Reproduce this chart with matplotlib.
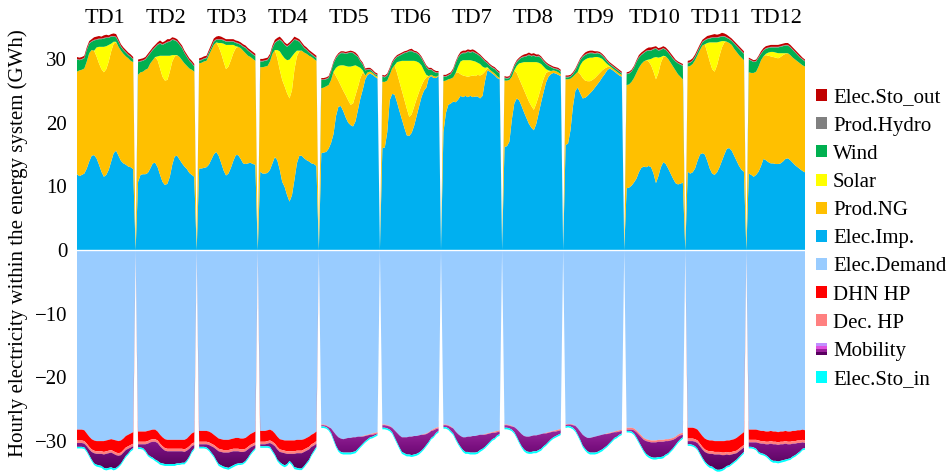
import matplotlib
matplotlib.use("Agg")
import matplotlib.pyplot as plt
import numpy as np
from matplotlib.colors import LinearSegmentedColormap
from matplotlib.legend_handler import HandlerBase
from matplotlib.patches import Patch, Rectangle

plt.rcParams["font.family"] = ["Liberation Serif", "DejaVu Serif"]

DAYS = ["TD1", "TD2", "TD3", "TD4", "TD5", "TD6", "TD7", "TD8", "TD9", "TD10", "TD11", "TD12"]

# hourly values (GWh), one row of 24 hours per typical day
IMP = [
    [11.9, 11.6, 11.8, 12.0, 12.8, 13.9, 14.8, 14.9, 14.4, 13.4, 12.3, 11.5, 11.8, 12.6, 13.9, 15.2, 15.6, 14.8, 14.0, 13.6, 13.4, 13.1, 13.0, 12.7],
    [10.7, 11.8, 11.9, 11.9, 12.1, 12.8, 13.6, 13.7, 13.0, 11.8, 10.7, 10.2, 10.4, 11.5, 13.4, 14.7, 14.8, 14.2, 13.6, 13.1, 12.7, 12.1, 11.8, 11.5],
    [12.8, 12.8, 12.9, 13.0, 13.4, 14.2, 15.0, 15.4, 14.8, 13.7, 12.5, 11.7, 12.0, 12.9, 14.0, 14.9, 14.9, 14.3, 13.6, 13.5, 13.6, 13.7, 13.5, 13.4],
    [12.3, 12.0, 12.0, 12.1, 12.6, 13.6, 14.6, 14.1, 12.6, 10.7, 9.9, 8.6, 7.6, 8.6, 11.0, 13.6, 14.8, 14.8, 14.4, 14.1, 13.9, 13.6, 13.5, 13.2],
    [15.2, 15.3, 15.4, 15.9, 16.8, 18.2, 21.0, 22.5, 22.6, 21.8, 20.8, 20.0, 19.6, 19.4, 20.2, 22.0, 23.8, 25.2, 26.8, 27.5, 27.7, 27.5, 27.2, 26.9],
    [16.0, 16.1, 18.5, 23.5, 24.5, 24.4, 23.2, 21.8, 20.5, 19.2, 18.0, 17.9, 18.4, 19.5, 21.0, 22.5, 24.0, 25.0, 25.5, 27.0, 27.3, 27.0, 27.0, 27.3],
    [18.5, 21.5, 22.8, 23.0, 23.3, 23.2, 23.6, 24.2, 24.0, 24.2, 24.0, 24.2, 24.0, 24.1, 24.1, 23.8, 24.2, 26.5, 28.2, 28.0, 27.7, 27.4, 27.0, 26.8],
    [16.2, 16.3, 17.0, 20.5, 23.0, 23.8, 23.5, 22.6, 21.6, 20.7, 19.8, 19.2, 18.8, 19.8, 21.5, 23.2, 24.8, 26.3, 27.2, 27.6, 27.8, 27.7, 27.5, 27.3],
    [16.5, 16.7, 18.8, 22.5, 25.0, 25.5, 24.6, 23.8, 23.9, 24.2, 24.6, 25.0, 25.5, 26.0, 26.5, 27.1, 27.6, 28.2, 28.5, 28.3, 28.0, 27.7, 27.4, 27.2],
    [9.7, 9.8, 10.1, 10.6, 11.2, 12.2, 12.9, 13.1, 13.0, 13.2, 13.0, 12.0, 10.5, 11.6, 13.0, 13.8, 13.5, 12.8, 12.0, 11.2, 10.5, 10.3, 10.4, 10.6],
    [12.3, 12.0, 12.2, 12.8, 14.0, 15.0, 15.2, 15.0, 14.0, 12.8, 12.0, 11.8, 12.2, 13.0, 14.0, 15.0, 15.9, 16.0, 15.6, 14.8, 14.0, 13.2, 12.6, 12.3],
    [12.0, 11.8, 11.5, 11.8, 12.3, 13.2, 14.3, 14.1, 13.8, 13.6, 13.6, 13.5, 13.5, 13.6, 13.9, 14.3, 14.4, 14.1, 13.7, 13.3, 13.0, 12.7, 12.4, 12.2],
]
NG = [
    [16.1, 16.6, 16.5, 16.5, 16.8, 17.0, 16.6, 16.4, 16.0, 15.9, 16.1, 16.4, 16.6, 17.0, 17.3, 17.2, 17.0, 17.1, 17.3, 17.2, 17.0, 17.0, 16.7, 16.8],
    [16.8, 16.1, 16.1, 16.4, 16.4, 16.5, 16.2, 16.6, 16.8, 16.7, 16.5, 16.4, 16.3, 16.5, 16.2, 15.7, 15.8, 16.1, 16.2, 16.2, 16.2, 16.4, 16.5, 16.5],
    [16.5, 16.6, 16.7, 16.7, 17.2, 17.2, 17.2, 17.2, 17.1, 17.2, 17.1, 16.7, 16.8, 16.9, 16.9, 16.8, 17.0, 17.4, 17.7, 17.4, 16.9, 16.6, 16.5, 16.3],
    [16.4, 16.7, 16.8, 16.8, 17.0, 17.2, 16.8, 16.0, 15.7, 16.0, 15.8, 16.0, 16.2, 16.5, 17.3, 16.8, 16.4, 16.5, 16.6, 16.7, 16.6, 16.7, 16.5, 16.5],
    [10.2, 10.2, 10.3, 10.0, 9.9, 9.8, 6.3, 4.1, 3.2, 3.2, 3.5, 3.5, 3.2, 3.6, 4.1, 3.6, 3.2, 2.7, 0.6, 0.4, 0.3, 0.3, 0.2, 0.3],
    [10.4, 10.3, 8.1, 4.0, 4.0, 4.6, 4.6, 4.6, 4.5, 4.4, 4.2, 3.0, 2.9, 3.0, 2.7, 2.3, 1.8, 1.6, 1.6, 0.3, 0.2, 0.3, 0.2, 0.1],
    [8.0, 5.1, 4.0, 3.9, 3.8, 4.6, 4.3, 3.4, 3.4, 3.1, 3.2, 3.1, 3.4, 3.2, 3.4, 3.6, 3.4, 1.5, 0.3, 0.3, 0.3, 0.3, 0.3, 0.2],
    [10.4, 10.3, 9.7, 6.7, 5.2, 4.0, 3.4, 3.4, 3.5, 3.5, 3.5, 3.4, 3.2, 3.2, 2.7, 2.4, 2.1, 1.5, 0.8, 0.5, 0.4, 0.4, 0.4, 0.3],
    [10.3, 10.1, 8.1, 4.7, 2.6, 2.5, 3.0, 3.2, 2.7, 2.3, 1.9, 1.7, 1.5, 1.4, 1.3, 1.1, 0.9, 0.5, 0.3, 0.3, 0.3, 0.3, 0.3, 0.3],
    [16.2, 16.2, 16.3, 16.4, 16.6, 16.4, 16.3, 16.5, 16.8, 16.4, 16.0, 16.0, 16.3, 16.2, 16.4, 16.5, 16.9, 17.2, 17.4, 17.6, 17.7, 17.3, 16.8, 16.2],
    [16.5, 16.9, 17.0, 17.0, 16.6, 16.4, 16.9, 17.3, 17.0, 16.8, 16.4, 16.2, 16.8, 17.5, 17.8, 17.6, 16.8, 16.5, 16.6, 16.8, 17.1, 17.4, 17.6, 17.5],
    [15.9, 16.0, 16.3, 16.2, 16.5, 16.6, 16.1, 16.5, 16.7, 16.8, 16.7, 16.7, 16.6, 16.7, 16.7, 16.5, 16.5, 16.5, 16.5, 16.6, 16.6, 16.6, 16.6, 16.6],
]
SOLAR = [
    [0, 0, 0, 0, 0, 0, 0, 0, 1.4, 2.6, 3.5, 4.0, 3.6, 2.6, 1.2, 0.3, 0.1, 0, 0, 0, 0, 0, 0, 0],
    [0, 0, 0, 0, 0, 0, 0, 0, 0.6, 2.0, 3.3, 3.9, 3.8, 2.5, 1.0, 0.2, 0, 0, 0, 0, 0, 0, 0, 0],
    [0, 0, 0, 0, 0, 0, 0, 0, 0.6, 1.6, 2.8, 3.8, 3.4, 2.4, 1.3, 0.3, 0, 0, 0, 0, 0, 0, 0, 0],
    [0, 0, 0, 0, 0, 0, 0, 1.3, 2.9, 3.9, 4.4, 5.2, 6.1, 5.3, 2.6, 0.9, 0.1, 0, 0, 0, 0, 0, 0, 0],
    [0, 0, 0, 0, 0, 0, 1.3, 2.3, 3.2, 4.0, 4.6, 5.3, 6.0, 5.9, 4.7, 3.2, 1.6, 0.3, 0, 0, 0, 0, 0, 0],
    [0, 0, 0, 0, 0, 0, 1.7, 3.2, 4.7, 6.1, 7.5, 8.8, 8.4, 7.2, 5.9, 4.6, 3.2, 1.6, 0.4, 0, 0, 0, 0, 0],
    [0, 0, 0, 0, 0, 0, 0.9, 2.0, 2.4, 2.5, 2.6, 2.5, 2.3, 2.3, 1.9, 1.8, 1.2, 0.6, 0.2, 0, 0, 0, 0, 0],
    [0, 0, 0, 0, 0, 1.1, 2.4, 3.4, 4.4, 5.3, 6.2, 6.9, 7.5, 6.5, 5.2, 3.6, 1.9, 0.6, 0.2, 0, 0, 0, 0, 0],
    [0, 0, 0, 0, 0, 0, 1.4, 2.6, 3.3, 3.6, 3.7, 3.5, 3.3, 2.9, 2.4, 1.8, 1.1, 0.5, 0.1, 0, 0, 0, 0, 0],
    [0, 0, 0, 0, 0, 0, 0, 0, 0, 0.3, 1.0, 2.2, 3.5, 2.4, 0.9, 0.2, 0, 0, 0, 0, 0, 0, 0, 0],
    [0, 0, 0, 0, 0, 0, 0, 0, 1.5, 3.0, 4.2, 4.6, 3.6, 2.2, 1.0, 0.2, 0, 0, 0, 0, 0, 0, 0, 0],
    [0, 0, 0, 0, 0, 0, 0, 0.2, 0.5, 0.7, 0.8, 0.8, 0.8, 0.6, 0.3, 0.1, 0, 0, 0, 0, 0, 0, 0, 0],
]
WIND = [
    [1.9, 1.6, 1.6, 1.6, 1.8, 1.5, 1.3, 1.6, 1.2, 1.2, 1.2, 1.3, 1.3, 1.1, 1.1, 0.8, 0.7, 0.8, 0.6, 0.6, 0.6, 0.5, 0.6, 0.4],
    [2.0, 1.7, 1.7, 1.6, 1.9, 1.6, 1.6, 1.5, 1.8, 1.9, 1.7, 1.9, 2.1, 2.2, 2.4, 2.3, 2.1, 1.9, 1.9, 1.6, 1.4, 1.2, 1.0, 0.8],
    [0.4, 0.4, 0.4, 0.4, 0.4, 0.4, 0.5, 0.4, 0.5, 0.5, 0.5, 0.5, 0.5, 0.5, 0.5, 0.5, 0.5, 0.5, 0.6, 0.8, 0.8, 0.7, 0.7, 0.7],
    [0.9, 0.9, 0.9, 0.9, 0.8, 0.9, 1.1, 1.4, 1.8, 2.1, 2.1, 2.1, 2.3, 2.2, 2.1, 1.6, 1.4, 0.9, 0.7, 0.6, 0.5, 0.4, 0.4, 0.4],
    [1.3, 1.2, 1.1, 1.1, 1.3, 1.3, 1.5, 1.7, 1.9, 1.9, 1.9, 2.1, 2.2, 2.0, 1.6, 1.5, 1.0, 0.9, 0.8, 0.4, 0.3, 0.2, 0.2, 0.2],
    [0.8, 0.7, 0.8, 0.8, 0.8, 0.9, 0.8, 0.9, 1.0, 1.2, 1.3, 1.5, 1.5, 1.3, 1.3, 1.2, 1.1, 1.2, 1.2, 1.0, 0.8, 0.7, 0.6, 0.4],
    [0.7, 0.6, 0.6, 0.7, 1.1, 1.5, 1.4, 1.1, 1.1, 1.1, 1.3, 1.2, 1.4, 1.3, 1.3, 1.2, 1.2, 1.0, 0.6, 0.6, 0.6, 0.7, 0.7, 0.7],
    [0.4, 0.3, 0.3, 0.6, 0.6, 0.6, 0.6, 0.8, 0.8, 0.9, 1.1, 0.9, 1.0, 0.8, 1.0, 0.9, 0.8, 0.8, 0.7, 0.6, 0.3, 0.3, 0.4, 0.4],
    [0.3, 0.3, 0.3, 0.4, 0.6, 1.0, 0.8, 0.7, 0.7, 0.7, 0.7, 0.7, 0.5, 0.6, 0.6, 0.5, 0.5, 0.4, 0.3, 0.3, 0.3, 0.3, 0.3, 0.2],
    [1.7, 1.7, 1.6, 1.6, 1.7, 1.6, 1.4, 1.3, 1.4, 1.4, 1.3, 1.3, 1.3, 1.1, 1.1, 1.1, 1.0, 1.0, 1.1, 1.2, 1.4, 1.7, 1.9, 2.1],
    [0.5, 0.5, 0.5, 0.5, 0.5, 0.5, 0.5, 0.6, 0.6, 0.6, 0.7, 0.7, 0.7, 0.7, 0.7, 0.7, 0.6, 0.6, 0.6, 0.8, 0.9, 1.0, 1.0, 1.0],
    [2.0, 1.9, 1.7, 1.6, 1.4, 1.0, 0.9, 0.8, 0.7, 0.7, 0.7, 0.8, 0.9, 1.0, 1.1, 1.2, 1.2, 1.2, 1.2, 1.1, 1.0, 0.9, 0.9, 0.8],
]
HYDRO_DAY = [0.1, 0.1, 0.1, 0.1, 0.1, 0.1, 0.1, 0.1, 0.1, 0.1, 0.1, 0.1, 0.1, 0.1, 0.1, 0.1, 0.1, 0.1, 0.1, 0.1, 0.1, 0.1, 0.1, 0.1]
HYDRO = [HYDRO_DAY] * 12
STO_OUT = [
    [0.3, 0.3, 0.3, 0.3, 0.3, 0.3, 0.3, 0.4, 0.4, 0.4, 0.3, 0.4, 0.4, 0.3, 0.3, 0.4, 0.4, 0.3, 0.3, 0.3, 0.3, 0.3, 0.3, 0.3],
    [0.3, 0.3, 0.3, 0.3, 0.3, 0.3, 0.3, 0.3, 0.3, 0.4, 0.3, 0.3, 0.4, 0.3, 0.3, 0.3, 0.3, 0.3, 0.3, 0.3, 0.3, 0.3, 0.3, 0.3],
    [0.3, 0.3, 0.3, 0.3, 0.3, 0.4, 0.4, 0.4, 0.5, 0.4, 0.3, 0.3, 0.3, 0.3, 0.3, 0.3, 0.3, 0.3, 0.3, 0.3, 0.3, 0.3, 0.3, 0.3],
    [0.3, 0.3, 0.3, 0.3, 0.3, 0.3, 0.4, 0.4, 0.4, 0.3, 0.3, 0.3, 0.3, 0.3, 0.4, 0.3, 0.3, 0.3, 0.3, 0.3, 0.3, 0.3, 0.3, 0.3],
    [0.2, 0.2, 0.2, 0.2, 0.2, 0.2, 0.2, 0.2, 0.2, 0.2, 0.2, 0.2, 0.2, 0.2, 0.3, 0.2, 0.2, 0.2, 0.2, 0.2, 0.2, 0.2, 0.2, 0.2],
    [0.2, 0.2, 0.2, 0.2, 0.2, 0.2, 0.2, 0.2, 0.2, 0.2, 0.2, 0.2, 0.3, 0.2, 0.2, 0.2, 0.2, 0.2, 0.2, 0.2, 0.2, 0.2, 0.2, 0.2],
    [0.2, 0.2, 0.2, 0.2, 0.2, 0.2, 0.2, 0.3, 0.3, 0.3, 0.3, 0.3, 0.3, 0.3, 0.2, 0.2, 0.2, 0.2, 0.2, 0.2, 0.2, 0.2, 0.2, 0.2],
    [0.2, 0.2, 0.2, 0.2, 0.2, 0.2, 0.2, 0.2, 0.3, 0.3, 0.3, 0.3, 0.3, 0.3, 0.2, 0.2, 0.2, 0.2, 0.2, 0.2, 0.2, 0.2, 0.2, 0.2],
    [0.2, 0.2, 0.2, 0.2, 0.2, 0.2, 0.2, 0.2, 0.3, 0.3, 0.3, 0.3, 0.3, 0.2, 0.2, 0.2, 0.2, 0.2, 0.2, 0.2, 0.2, 0.2, 0.2, 0.2],
    [0.2, 0.2, 0.2, 0.2, 0.2, 0.3, 0.3, 0.3, 0.3, 0.4, 0.4, 0.3, 0.3, 0.3, 0.3, 0.3, 0.3, 0.3, 0.3, 0.3, 0.2, 0.2, 0.2, 0.2],
    [0.3, 0.3, 0.3, 0.3, 0.3, 0.3, 0.3, 0.3, 0.4, 0.4, 0.4, 0.5, 0.4, 0.4, 0.5, 0.4, 0.4, 0.3, 0.3, 0.3, 0.3, 0.3, 0.3, 0.3],
    [0.2, 0.2, 0.2, 0.2, 0.2, 0.3, 0.3, 0.3, 0.3, 0.3, 0.3, 0.3, 0.3, 0.3, 0.3, 0.3, 0.3, 0.3, 0.3, 0.3, 0.3, 0.3, 0.2, 0.2],
]

# consumption side, drawn below zero
DEMAND = [
    [28.2, 28.2, 28.2, 28.3, 28.8, 29.3, 29.7, 29.9, 30.0, 30.0, 30.0, 30.0, 29.9, 29.8, 29.7, 29.8, 29.9, 30.0, 29.9, 29.6, 29.2, 29.0, 28.8, 28.6],
    [28.5, 28.5, 28.5, 28.5, 28.4, 28.3, 28.2, 28.2, 28.5, 29.0, 29.4, 29.7, 29.8, 29.8, 29.8, 29.8, 29.8, 29.8, 29.8, 29.8, 29.6, 29.2, 28.8, 28.6],
    [28.4, 28.4, 28.4, 28.4, 28.5, 28.7, 29.0, 29.3, 29.6, 29.7, 29.8, 29.8, 29.8, 29.7, 29.6, 29.5, 29.5, 29.6, 29.6, 29.5, 29.2, 28.9, 28.7, 28.5],
    [28.4, 28.4, 28.4, 28.3, 28.2, 28.4, 28.8, 29.3, 29.7, 29.8, 29.9, 29.9, 29.9, 29.9, 29.9, 29.8, 29.8, 29.8, 29.7, 29.5, 29.3, 29.0, 28.8, 28.5],
    [27.4, 27.4, 27.5, 27.7, 28.0, 28.5, 29.0, 29.4, 29.6, 29.7, 29.6, 29.5, 29.5, 29.4, 29.4, 29.3, 29.3, 29.2, 29.1, 29.0, 28.9, 28.8, 28.7, 28.6],
    [27.4, 27.4, 27.5, 27.6, 27.9, 28.3, 28.7, 29.1, 29.4, 29.4, 29.4, 29.3, 29.3, 29.2, 29.2, 29.1, 29.0, 28.9, 28.8, 28.6, 28.3, 28.1, 27.9, 27.8],
    [27.4, 27.4, 27.5, 27.7, 28.0, 28.5, 28.9, 29.2, 29.4, 29.4, 29.3, 29.3, 29.2, 29.2, 29.1, 29.0, 29.0, 28.9, 28.8, 28.7, 28.6, 28.5, 28.4, 28.3],
    [27.4, 27.4, 27.5, 27.6, 27.8, 28.1, 28.5, 28.9, 29.2, 29.3, 29.3, 29.2, 29.1, 29.1, 29.0, 28.9, 28.8, 28.7, 28.6, 28.5, 28.4, 28.3, 28.2, 28.1],
    [27.4, 27.3, 27.3, 27.4, 27.6, 28.0, 28.5, 29.0, 29.3, 29.5, 29.5, 29.4, 29.3, 29.2, 29.1, 29.0, 28.9, 28.8, 28.7, 28.6, 28.5, 28.4, 28.3, 28.2],
    [27.9, 27.9, 27.9, 28.0, 28.3, 28.7, 29.1, 29.5, 29.7, 29.8, 29.9, 29.9, 29.9, 29.8, 29.8, 29.8, 29.7, 29.7, 29.6, 29.5, 29.3, 29.0, 28.8, 28.7],
    [27.9, 27.9, 27.9, 28.0, 28.2, 28.7, 29.2, 29.6, 29.8, 29.9, 29.9, 30.0, 30.0, 30.0, 30.0, 30.0, 29.9, 29.9, 29.8, 29.7, 29.5, 29.2, 28.9, 28.6],
    [28.2, 28.2, 28.2, 28.2, 28.3, 28.4, 28.4, 28.5, 28.5, 28.4, 28.5, 28.5, 28.6, 28.5, 28.5, 28.4, 28.5, 28.5, 28.4, 28.4, 28.3, 28.3, 28.2, 28.3],
]
ZERO_DAY = [0, 0, 0, 0, 0, 0, 0, 0, 0, 0, 0, 0, 0, 0, 0, 0, 0, 0, 0, 0, 0, 0, 0, 0]
DHN_HP = [
    [1.7, 1.7, 1.7, 1.7, 1.6, 1.6, 1.6, 1.6, 1.6, 1.6, 1.6, 1.7, 1.7, 1.7, 1.7, 1.8, 1.9, 1.9, 1.9, 1.8, 1.8, 1.8, 1.8, 1.8],
    [1.6, 1.6, 1.6, 1.6, 1.6, 1.5, 1.5, 1.5, 1.4, 1.4, 1.4, 1.4, 1.4, 1.4, 1.4, 1.4, 1.4, 1.4, 1.4, 1.5, 1.5, 1.6, 1.6, 1.6],
    [1.7, 1.7, 1.7, 1.7, 1.7, 1.7, 1.6, 1.6, 1.6, 1.6, 1.6, 1.6, 1.6, 1.6, 1.6, 1.7, 1.7, 1.7, 1.7, 1.7, 1.7, 1.7, 1.7, 1.7],
    [1.7, 1.7, 1.7, 1.7, 1.7, 1.7, 1.6, 1.6, 1.6, 1.6, 1.6, 1.7, 1.7, 1.7, 1.7, 1.7, 1.7, 1.7, 1.6, 1.6, 1.6, 1.5, 1.5, 1.5],
    ZERO_DAY, ZERO_DAY, ZERO_DAY, ZERO_DAY, ZERO_DAY, ZERO_DAY,
    [1.7, 1.7, 1.7, 1.7, 1.7, 1.7, 1.7, 1.7, 1.7, 1.7, 1.7, 1.7, 1.7, 1.7, 1.8, 1.8, 1.8, 1.9, 1.9, 1.9, 2.0, 2.0, 2.0, 2.0],
    [1.6, 1.6, 1.6, 1.6, 1.6, 1.6, 1.6, 1.6, 1.6, 1.6, 1.6, 1.6, 1.6, 1.6, 1.6, 1.6, 1.6, 1.6, 1.6, 1.6, 1.6, 1.6, 1.6, 1.6],
]
DEC_HP_WINTER = [0.4, 0.4, 0.4, 0.4, 0.4, 0.4, 0.4, 0.4, 0.4, 0.4, 0.4, 0.4, 0.4, 0.4, 0.4, 0.4, 0.4, 0.4, 0.4, 0.4, 0.4, 0.4, 0.4, 0.4]
DEC_HP_SUMMER = [0.1, 0.1, 0.1, 0.1, 0.0, 0.0, 0.0, 0.0, 0.0, 0.0, 0.0, 0.0, 0.0, 0.0, 0.0, 0.0, 0.0, 0.1, 0.1, 0.1, 0.1, 0.2, 0.2, 0.2]
DEC_HP = [
    DEC_HP_WINTER, DEC_HP_WINTER, DEC_HP_WINTER, DEC_HP_WINTER,
    DEC_HP_SUMMER, DEC_HP_SUMMER, DEC_HP_SUMMER, DEC_HP_SUMMER, DEC_HP_SUMMER,
    [0.3, 0.3, 0.3, 0.3, 0.3, 0.3, 0.3, 0.3, 0.3, 0.3, 0.3, 0.3, 0.3, 0.3, 0.3, 0.3, 0.3, 0.3, 0.3, 0.3, 0.3, 0.3, 0.3, 0.3],
    DEC_HP_WINTER, DEC_HP_WINTER,
]
MOBILITY = [
    [0.6, 0.6, 0.6, 0.6, 0.7, 0.9, 1.2, 1.6, 1.7, 1.8, 1.9, 2.1, 2.3, 2.3, 2.3, 2.3, 2.0, 1.6, 1.3, 1.1, 0.9, 0.7, 0.4, 0.3],
    [0.5, 0.5, 0.6, 1.0, 1.7, 2.2, 2.5, 2.8, 2.8, 2.6, 2.3, 2.1, 2.0, 2.0, 2.0, 2.0, 1.9, 1.9, 1.8, 1.7, 1.5, 1.2, 0.8, 0.5],
    [0.4, 0.4, 0.4, 0.5, 0.7, 1.0, 1.3, 1.7, 2.0, 2.1, 2.2, 2.3, 2.4, 2.3, 2.2, 2.0, 1.9, 1.8, 1.7, 1.5, 1.3, 1.0, 0.7, 0.5],
    [0.3, 0.3, 0.3, 0.4, 0.6, 1.0, 1.3, 1.6, 1.6, 1.8, 1.9, 1.6, 1.1, 1.5, 2.1, 2.3, 2.4, 2.4, 2.2, 1.9, 1.6, 1.2, 0.8, 0.5],
    [0.2, 0.2, 0.2, 0.3, 0.7, 1.2, 1.7, 2.0, 2.1, 2.1, 2.2, 2.3, 2.3, 2.3, 2.2, 1.9, 1.5, 1.1, 0.8, 0.6, 0.4, 0.3, 0.2, 0.1],
    [0.4, 0.4, 0.4, 0.5, 0.7, 1.1, 1.5, 1.9, 2.3, 2.5, 2.7, 2.8, 2.9, 2.9, 2.8, 2.7, 2.5, 2.1, 1.7, 1.4, 1.1, 0.9, 0.6, 0.4],
    [0.3, 0.3, 0.4, 0.6, 0.8, 1.1, 1.4, 1.7, 2.0, 2.3, 2.4, 2.5, 2.6, 2.6, 2.6, 2.4, 2.2, 1.9, 1.6, 1.3, 1.0, 0.8, 0.5, 0.4],
    [0.4, 0.4, 0.4, 0.5, 0.8, 1.2, 1.6, 1.9, 2.1, 2.3, 2.4, 2.5, 2.5, 2.5, 2.4, 2.3, 2.0, 1.7, 1.4, 1.1, 0.9, 0.7, 0.6, 0.5],
    [0.2, 0.2, 0.3, 0.4, 0.7, 1.0, 1.3, 1.7, 1.9, 2.1, 2.3, 2.4, 2.5, 2.5, 2.4, 2.3, 2.1, 1.8, 1.5, 1.2, 0.9, 0.7, 0.5, 0.4],
    [0.2, 0.2, 0.3, 0.5, 0.8, 1.1, 1.4, 1.7, 2.0, 2.2, 2.3, 2.4, 2.4, 2.4, 2.4, 2.3, 2.1, 1.9, 1.6, 1.3, 1.0, 0.8, 0.6, 0.4],
    [0.5, 0.5, 0.6, 0.7, 0.9, 1.1, 1.3, 1.5, 1.7, 1.9, 2.0, 2.2, 2.4, 2.4, 2.2, 2.0, 1.8, 1.6, 1.4, 1.2, 1.0, 0.9, 0.8, 0.7],
    [0.7, 0.7, 0.8, 1.0, 1.4, 1.5, 1.6, 1.7, 2.0, 2.5, 2.6, 2.6, 2.6, 2.6, 2.5, 2.5, 2.3, 2.2, 2.0, 1.8, 1.6, 1.3, 1.0, 0.8],
]
STO_IN_DAY = [0.25, 0.25, 0.25, 0.25, 0.25, 0.25, 0.25, 0.25, 0.3, 0.3, 0.3, 0.3, 0.3, 0.3, 0.3, 0.3, 0.25, 0.25, 0.25, 0.25, 0.25, 0.25, 0.25, 0.25]
STO_IN = [STO_IN_DAY] * 12

POS_SERIES = [
    ("Elec.Imp.", IMP, "#00b0f0"),
    ("Prod.NG", NG, "#ffc000"),
    ("Solar", SOLAR, "#ffff00"),
    ("Wind", WIND, "#00b050"),
    ("Prod.Hydro", HYDRO, "#808080"),
    ("Elec.Sto_out", STO_OUT, "#c00000"),
]
NEG_SERIES = [
    ("Elec.Demand", DEMAND, "#99ccff"),
    ("DHN HP", DHN_HP, "#ff0000"),
    ("Dec. HP", DEC_HP, "#ff8080"),
    ("Mobility", MOBILITY, None),
    ("Elec.Sto_in", STO_IN, "#00ffff"),
]


def flatten_days(rows):
    """Join the typical days, dropping to zero between consecutive days."""
    parts = []
    for k, row in enumerate(rows):
        parts.append(np.asarray(row, dtype=float))
        if k < len(rows) - 1:
            parts.append(np.zeros(1))
    return np.concatenate(parts)


class GradientHandler(HandlerBase):
    def create_artists(self, legend, orig_handle, xdescent, ydescent, width, height, fontsize, trans):
        cols = ["#5a0060", "#9a209a", "#e050e0", "#c090ff"]
        n = len(cols)
        arts = []
        for k, c in enumerate(cols):
            r = Rectangle((-xdescent, -ydescent + k * height / n), width, height / n,
                          facecolor=c, edgecolor="none", transform=trans)
            arts.append(r)
        return arts


fig = plt.figure(figsize=(9.51, 4.72), dpi=100)
ax = fig.add_axes([77 / 951, 0, 728 / 951, 1])

x = np.arange(len(flatten_days(IMP)))

# production side
base = np.zeros_like(x, dtype=float)
for name, rows, color in POS_SERIES:
    vals = flatten_days(rows)
    ax.fill_between(x, base, base + vals, facecolor=color, linewidth=0, zorder=2)
    base = base + vals

# consumption side
mob_cmap = LinearSegmentedColormap.from_list("mob", ["#4a0050", "#7a1080", "#a832a8"])
base = np.zeros_like(x, dtype=float)
for name, rows, color in NEG_SERIES:
    vals = flatten_days(rows)
    if color is None:
        poly = ax.fill_between(x, -base, -(base + vals), facecolor="none", linewidth=0, zorder=2)
        grad = np.linspace(0, 1, 256).reshape(-1, 1)
        im = ax.imshow(grad, extent=[x[0], x[-1], -35, -27], origin="lower", cmap=mob_cmap,
                       aspect="auto", zorder=2, interpolation="bilinear")
        im.set_clip_path(poly.get_paths()[0], transform=ax.transData)
    else:
        ax.fill_between(x, -base, -(base + vals), facecolor=color, linewidth=0, zorder=2)
    base = base + vals

ax.axhline(0, color="white", linewidth=1.0, zorder=3)

for k, day in enumerate(DAYS):
    ax.text(25 * k + 11.5, 36.4, day, ha="center", va="center", fontsize=16)

ax.set_xlim(x[0], x[-1])
ax.set_ylim(-34.85, 39.25)
ax.set_xticks([])
ax.set_yticks([-30, -20, -10, 0, 10, 20, 30])
ax.tick_params(axis="y", length=0, pad=7, labelsize=15)
for side in ["top", "right", "bottom", "left"]:
    ax.spines[side].set_visible(False)

fig.text(0.019, 0.485, "Hourly electricity within the energy system (GWh)", rotation=90,
         ha="center", va="center", fontsize=15)

legend_order = ["Elec.Sto_out", "Prod.Hydro", "Wind", "Solar", "Prod.NG", "Elec.Imp.",
                "Elec.Demand", "DHN HP", "Dec. HP", "Mobility", "Elec.Sto_in"]
colors = {name: color for name, _, color in POS_SERIES + NEG_SERIES}
handles = []
for name in legend_order:
    if colors[name] is None:
        mob_handle = Patch(facecolor="#9a209a")
        handles.append(mob_handle)
    else:
        handles.append(Patch(facecolor=colors[name], edgecolor="none"))

fig.legend(handles, legend_order, loc="center left", bbox_to_anchor=(0.8585, 0.494),
           frameon=False, fontsize=15, handlelength=0.5, handleheight=0.5, handletextpad=0.3,
           labelspacing=0.44, borderaxespad=0, borderpad=0, handler_map={mob_handle: GradientHandler()})

fig.savefig("out.png", dpi=100)
